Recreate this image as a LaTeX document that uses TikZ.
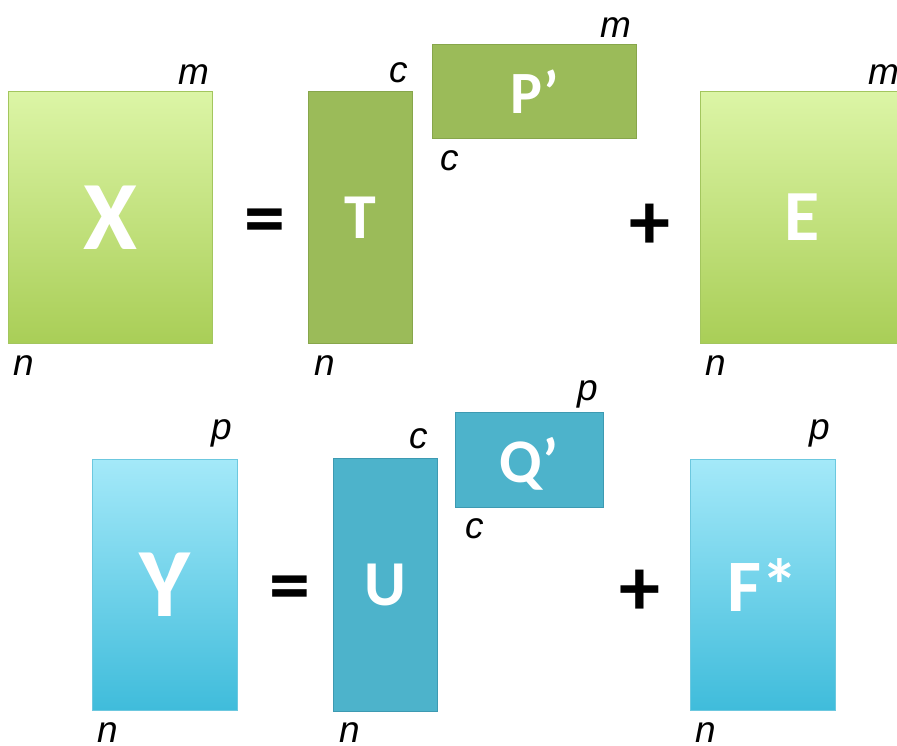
\documentclass[tikz,border=0pt]{standalone}
\usepackage{fontspec}
\setmainfont{Carlito}
\newfontfamily\dimfont{Liberation Sans}
\usetikzlibrary{positioning}
\definecolor{limetop}{HTML}{DCF5A6}
\definecolor{limebot}{HTML}{A9CE57}
\definecolor{limeline}{HTML}{A3C65E}
\definecolor{olive}{HTML}{9BBB59}
\definecolor{oliveline}{HTML}{87A64B}
\definecolor{skytop}{HTML}{A4E9F9}
\definecolor{skybot}{HTML}{3FBCDB}
\definecolor{skyline}{HTML}{6CC8DF}
\definecolor{teal}{HTML}{4DB3CB}
\definecolor{tealline}{HTML}{3D9AB2}
\newcommand{\sz}[1]{\fontsize{#1}{#1}\selectfont}

\begin{document}
\begin{tikzpicture}[x=1pt,y=-1pt,
  mat/.style={anchor=north west,inner sep=0pt,text=white,text depth=-14pt,line width=0.8pt},
  fade/.style={mat,top color=limetop,bottom color=limebot,draw=limeline},
  solid/.style={mat,fill=olive,draw=oliveline},
  fadeb/.style={mat,top color=skytop,bottom color=skybot,draw=skyline},
  solidb/.style={mat,fill=teal,draw=tealline},
  dim/.style={font=\dimfont\itshape\sz{37}},
  sign/.style={font=\bfseries\sz{82}}]
  \useasboundingbox (0,0) rectangle (897,746);
  % first row: X = T P' + E
  \node[fade,minimum width=204pt,minimum height=252pt,font=\bfseries\sz{98}] (X) at (8,91) {X};
  \node[solid,minimum width=104pt,minimum height=252pt,font=\bfseries\sz{64}] (T) at (308,91) {T};
  \node[solid,minimum width=204pt,minimum height=94pt,font=\bfseries\sz{60}] (P) at (432,44) {P’};
  \node[fade,minimum width=204pt,minimum height=252pt,font=\bfseries\sz{72}] (E) at (700,91) {E};
  \node[sign] (eq1) at (265,227) {=};
  \node[sign] (plus1) at (650,227) {+};
  \node[dim,anchor=base east] (Xm) at ([xshift=0pt,yshift=6pt]X.north east) {m};
  \node[dim,anchor=base west] (Xn) at ([xshift=2pt,yshift=-32pt]X.south west) {n};
  \node[dim,anchor=base east] (Tc) at ([xshift=-1pt,yshift=8pt]T.north east) {c};
  \node[dim,anchor=base west] (Tn) at ([xshift=3pt,yshift=-32pt]T.south west) {n};
  \node[dim,anchor=base east] (Pm) at ([xshift=-2pt,yshift=6pt]P.north east) {m};
  \node[dim,anchor=base west] (Pc) at ([xshift=5pt,yshift=-32pt]P.south west) {c};
  \node[dim,anchor=base east] (Em) at ([xshift=-2pt,yshift=6pt]E.north east) {m};
  \node[dim,anchor=base west] (En) at ([xshift=2pt,yshift=-32pt]E.south west) {n};
  % second row: Y = U Q' + F*
  \node[fadeb,minimum width=145pt,minimum height=251pt,font=\bfseries\sz{98}] (Y) at (92,459) {Y};
  \node[solidb,minimum width=104pt,minimum height=253pt,font=\bfseries\sz{64}] (U) at (333,458) {U};
  \node[solidb,minimum width=148pt,minimum height=95pt,font=\bfseries\sz{62},text depth=-3pt] (Q) at (455,412) {Q’};
  \node[fadeb,minimum width=145pt,minimum height=251pt,font=\bfseries\sz{74}] (F) at (690,459) {F*};
  \node[sign] (eq2) at (290,594) {=};
  \node[sign] (plus2) at (640,593) {+};
  \node[dim,anchor=base east] (Yp) at ([xshift=-2pt,yshift=20pt]Y.north east) {p};
  \node[dim,anchor=base west] (Yn) at ([xshift=2pt,yshift=-32pt]Y.south west) {n};
  \node[dim,anchor=base east] (Uc) at ([xshift=-6pt,yshift=10pt]U.north east) {c};
  \node[dim,anchor=base west] (Un) at ([xshift=3pt,yshift=-31pt]U.south west) {n};
  \node[dim,anchor=base east] (Qp) at ([xshift=-2pt,yshift=12pt]Q.north east) {p};
  \node[dim,anchor=base west] (Qc) at ([xshift=7pt,yshift=-31pt]Q.south west) {c};
  \node[dim,anchor=base east] (Fp) at ([xshift=-2pt,yshift=20pt]F.north east) {p};
  \node[dim,anchor=base west] (Fn) at ([xshift=2pt,yshift=-32pt]F.south west) {n};
\end{tikzpicture}
\end{document}
